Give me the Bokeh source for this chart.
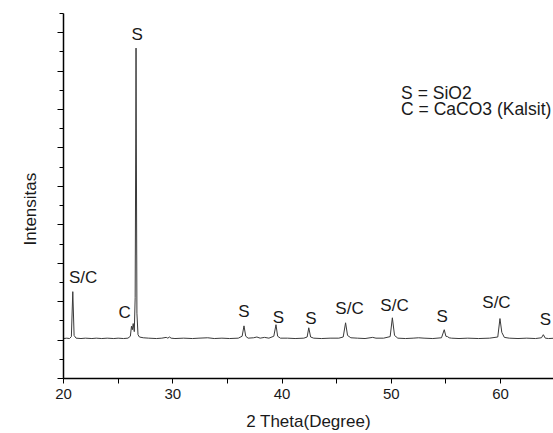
from bokeh.plotting import figure
from bokeh.models import Range1d, FixedTicker, ColumnDataSource, Title
from bokeh.core.properties import value
from bokeh.embed import file_html
from bokeh.resources import INLINE

# XRD trace (2-theta in degrees, intensity in arbitrary units)
two_theta = [20.0, 20.3, 20.55, 20.72, 20.85, 20.97, 21.15, 21.6, 22.0, 22.6, 23.0, 23.5, 24.0,
             24.6, 25.0, 25.5, 25.9, 26.12, 26.22, 26.3, 26.38, 26.48, 26.56, 26.64, 26.72,
             26.82, 26.95, 27.3, 27.8, 28.5, 29.0, 29.4, 29.55, 29.7, 29.85, 30.2, 31.0, 31.8,
             32.4, 33.2, 33.8, 34.5, 35.2, 36.0, 36.35, 36.52, 36.68, 36.9, 37.4, 37.7, 38.0,
             38.4, 38.8, 39.25, 39.45, 39.6, 39.85, 40.5, 41.2, 42.0, 42.3, 42.45, 42.62, 42.9,
             43.6, 44.4, 45.2, 45.6, 45.82, 46.0, 46.3, 46.9, 47.6, 48.3, 48.6, 49.3, 49.9,
             50.1, 50.3, 50.6, 51.3, 52.0, 52.5, 53.0, 53.8, 54.6, 54.85, 55.0, 55.15, 55.3,
             55.5, 56.2, 57.0, 58.0, 59.0, 59.75, 59.95, 60.12, 60.35, 60.8, 61.6, 62.4, 63.2,
             63.75, 63.92, 64.1, 64.4, 65.0]
intensity = [1.04, 1.05, 1.04, 1.09, 2.26, 1.12, 1.05, 1.04, 1.05, 1.04, 1.05, 1.04, 1.05,
             1.04, 1.05, 1.04, 1.05, 1.1, 1.36, 1.27, 1.43, 1.22, 2.1, 8.6, 1.7,
             1.14, 1.08, 1.06, 1.05, 1.04, 1.05, 1.07, 1.05, 1.08, 1.05, 1.04, 1.05, 1.04,
             1.05, 1.06, 1.04, 1.05, 1.04, 1.05, 1.1, 1.37, 1.1, 1.05, 1.06, 1.08, 1.05,
             1.07, 1.05, 1.1, 1.4, 1.1, 1.05, 1.05, 1.04, 1.05, 1.08, 1.32, 1.08, 1.05,
             1.04, 1.05, 1.05, 1.08, 1.45, 1.12, 1.06, 1.05, 1.04, 1.07, 1.05, 1.05, 1.09,
             1.58, 1.12, 1.05, 1.04, 1.05, 1.06, 1.05, 1.04, 1.06, 1.27, 1.1, 1.09, 1.06,
             1.05, 1.04, 1.05, 1.04, 1.05, 1.08, 1.56, 1.2, 1.07, 1.05, 1.04, 1.05, 1.04,
             1.06, 1.14, 1.05, 1.04, 1.05]

# Peak annotations
peak_labels = ["S/C", "C", "S", "S", "S", "S", "S/C", "S/C", "S", "S/C", "S"]
peak_label_x = [21.8, 25.6, 26.74, 36.52, 39.68, 42.64, 46.18, 50.3, 54.66, 59.63, 64.1]
peak_label_y = [2.62, 1.72, 8.96, 1.74, 1.58, 1.57, 1.82, 1.90, 1.62, 1.97, 1.53]

legend_lines = ["S = SiO2", "C = CaCO3 (Kalsit)"]
legend_x = [50.9, 50.9]
legend_y = [7.44, 7.01]

x_ticks = [20, 30, 40, 50, 60]
y_ticks = [0, 1, 2, 3, 4, 5, 6, 7, 8, 9]

FONT = "Liberation Sans"
INK = "#1a1a1a"

p = figure(width=553, height=433, output_backend="svg", toolbar_location=None,
           x_range=Range1d(20, 64.85), y_range=Range1d(0, 9.5),
           min_border_left=63, min_border_right=0, min_border_top=13, min_border_bottom=54)
p.outline_line_color = None
p.xgrid.visible = False
p.ygrid.visible = False
p.background_fill_color = "white"
p.border_fill_color = "white"

p.line(two_theta, intensity, line_color="#3a3a3a", line_width=1)

src = ColumnDataSource(dict(x=peak_label_x, y=peak_label_y, t=peak_labels))
p.text(x="x", y="y", text="t", source=src, text_align="center", text_baseline="middle",
       text_font=value(FONT), text_font_size="17px", text_color=INK)

lsrc = ColumnDataSource(dict(x=legend_x, y=legend_y, t=legend_lines))
p.text(x="x", y="y", text="t", source=lsrc, text_align="left", text_baseline="middle",
       text_font=value(FONT), text_font_size="17.5px", text_color=INK)

# x axis
xa = p.xaxis[0]
xa.ticker = FixedTicker(ticks=x_ticks, minor_ticks=[25, 35, 45, 55, 65])
xa.axis_label = "2 Theta(Degree)"
xa.axis_label_text_font = FONT
xa.axis_label_text_font_size = "17px"
xa.axis_label_text_font_style = "normal"
xa.axis_label_text_color = INK
xa.axis_label_text_line_height = 1.0
xa.axis_label_standoff = 10
xa.major_label_text_font = FONT
xa.major_label_text_font_size = "15px"
xa.major_label_text_color = INK
xa.major_label_text_line_height = 1.0
xa.major_label_standoff = 5
xa.major_tick_out = 5
xa.major_tick_in = 0
xa.minor_tick_out = 5
xa.minor_tick_in = 0
xa.axis_line_color = "black"
xa.major_tick_line_color = "black"
xa.minor_tick_line_color = "black"
xa.axis_line_width = 1.5

# y axis (no numeric labels)
ya = p.yaxis[0]
ya.ticker = FixedTicker(ticks=y_ticks, minor_ticks=[v + 0.5 for v in y_ticks])
ya.major_label_overrides = {t: "" for t in y_ticks}
ya.major_tick_out = 6
ya.major_tick_in = 0
ya.minor_tick_out = 4
ya.minor_tick_in = 0
ya.axis_line_color = "black"
ya.axis_line_width = 1.5

p.add_layout(Title(text="Intensitas", align="left", offset=133, standoff=35,
                   text_font=FONT, text_font_size="17px", text_font_style="normal",
                   text_color=INK), "left")

open("out.html", "w").write(file_html(p, INLINE))
